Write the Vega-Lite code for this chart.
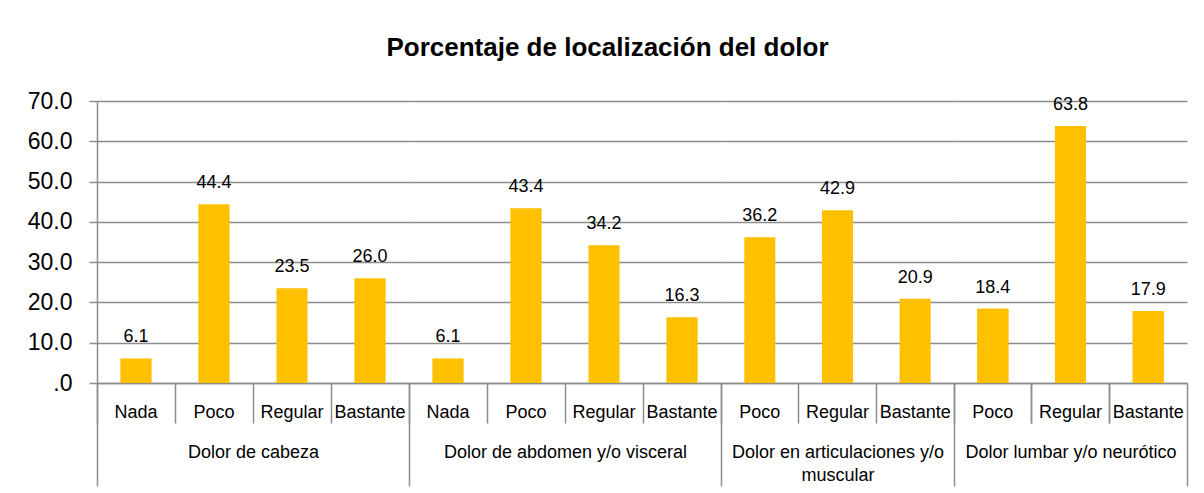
{
  "$schema": "https://vega.github.io/schema/vega-lite/v6.json",
  "background": "white",
  "padding": {"left": 27, "top": 35, "right": 5, "bottom": 0},
  "title": {"text": "Porcentaje de localización del dolor", "fontSize": 26, "fontWeight": "bold", "color": "black", "anchor": "middle", "offset": 29},
  "datasets": {
    "d": [
      {"group": "Dolor de cabeza", "sub": "Nada", "value": 6.1},
      {"group": "Dolor de cabeza", "sub": "Poco", "value": 44.4},
      {"group": "Dolor de cabeza", "sub": "Regular", "value": 23.5},
      {"group": "Dolor de cabeza", "sub": "Bastante", "value": 26.0},
      {"group": "Dolor de abdomen y/o visceral", "sub": "Nada", "value": 6.1},
      {"group": "Dolor de abdomen y/o visceral", "sub": "Poco", "value": 43.4},
      {"group": "Dolor de abdomen y/o visceral", "sub": "Regular", "value": 34.2},
      {"group": "Dolor de abdomen y/o visceral", "sub": "Bastante", "value": 16.3},
      {"group": "Dolor en articulaciones y/o muscular", "sub": "Poco", "value": 36.2},
      {"group": "Dolor en articulaciones y/o muscular", "sub": "Regular", "value": 42.9},
      {"group": "Dolor en articulaciones y/o muscular", "sub": "Bastante", "value": 20.9},
      {"group": "Dolor lumbar y/o neurótico", "sub": "Poco", "value": 18.4},
      {"group": "Dolor lumbar y/o neurótico", "sub": "Regular", "value": 63.8},
      {"group": "Dolor lumbar y/o neurótico", "sub": "Bastante", "value": 17.9}
    ]
  },
  "spacing": 0,
  "bounds": "flush",
  "hconcat": [
    {
      "width": 312, "height": 282,
      "data": {"name": "d"},
      "transform": [{"filter": "datum.group == 'Dolor de cabeza'"}],
      "resolve": {"axis": {"x": "independent"}},
      "encoding": {
        "y": {"field": "value", "type": "quantitative", "scale": {"domain": [0, 70], "nice": false},
              "axis": {"values": [0, 10, 20, 30, 40, 50, 60, 70], "labelExpr": "datum.value == 0 ? '.0' : format(datum.value, '.1f')",
                       "labelFontSize": 23, "labelColor": "black", "labelPadding": 17, "tickSize": 8, "title": null, "domain": true}}
      },
      "layer": [
        {"mark": {"type": "bar", "color": "#FFC000", "width": {"band": 0.4}},
         "encoding": {"x": {"field": "sub", "type": "nominal", "sort": ["Nada", "Poco", "Regular", "Bastante"],
              "scale": {"paddingInner": 0, "paddingOuter": 0},
              "axis": {"orient": "bottom", "bandPosition": 0, "tickSize": 40, "labelPadding": -6, "title": "Dolor de cabeza"}}}},
        {"mark": {"type": "text", "baseline": "alphabetic", "dy": -16, "fontSize": 18, "color": "black"},
         "encoding": {
           "x": {"field": "sub", "type": "nominal", "sort": ["Nada", "Poco", "Regular", "Bastante"],
                 "axis": {"orient": "bottom", "bandPosition": 0, "labels": false, "domain": false, "title": null,
                          "tickSize": {"condition": {"test": "datum.index == 0", "value": 103}, "value": 0}}},
           "text": {"field": "value", "type": "quantitative", "format": ".1f"}}}
      ]
    },
    {
      "width": 312, "height": 282,
      "data": {"name": "d"},
      "transform": [{"filter": "datum.group == 'Dolor de abdomen y/o visceral'"}],
      "resolve": {"axis": {"x": "independent"}},
      "encoding": {
        "y": {"field": "value", "type": "quantitative", "scale": {"domain": [0, 70], "nice": false},
              "axis": {"values": [0, 10, 20, 30, 40, 50, 60, 70], "labels": false, "ticks": false, "domain": false, "title": null}}
      },
      "layer": [
        {"mark": {"type": "bar", "color": "#FFC000", "width": {"band": 0.4}},
         "encoding": {"x": {"field": "sub", "type": "nominal", "sort": ["Nada", "Poco", "Regular", "Bastante"],
              "scale": {"paddingInner": 0, "paddingOuter": 0},
              "axis": {"orient": "bottom", "bandPosition": 0, "tickSize": 40, "labelPadding": -6, "title": "Dolor de abdomen y/o visceral"}}}},
        {"mark": {"type": "text", "baseline": "alphabetic", "dy": -16, "fontSize": 18, "color": "black"},
         "encoding": {
           "x": {"field": "sub", "type": "nominal", "sort": ["Nada", "Poco", "Regular", "Bastante"],
                 "axis": {"orient": "bottom", "bandPosition": 0, "labels": false, "domain": false, "title": null,
                          "tickSize": {"condition": {"test": "datum.index == 0", "value": 103}, "value": 0}}},
           "text": {"field": "value", "type": "quantitative", "format": ".1f"}}}
      ]
    },
    {
      "width": 233, "height": 282,
      "data": {"name": "d"},
      "transform": [{"filter": "datum.group == 'Dolor en articulaciones y/o muscular'"}],
      "resolve": {"axis": {"x": "independent"}},
      "encoding": {
        "y": {"field": "value", "type": "quantitative", "scale": {"domain": [0, 70], "nice": false},
              "axis": {"values": [0, 10, 20, 30, 40, 50, 60, 70], "labels": false, "ticks": false, "domain": false, "title": null}}
      },
      "layer": [
        {"mark": {"type": "bar", "color": "#FFC000", "width": {"band": 0.4}},
         "encoding": {"x": {"field": "sub", "type": "nominal", "sort": ["Poco", "Regular", "Bastante"],
              "scale": {"paddingInner": 0, "paddingOuter": 0},
              "axis": {"orient": "bottom", "bandPosition": 0, "tickSize": 40, "labelPadding": -6, "title": ["Dolor en articulaciones y/o", "muscular"]}}}},
        {"mark": {"type": "text", "baseline": "alphabetic", "dy": -16, "fontSize": 18, "color": "black"},
         "encoding": {
           "x": {"field": "sub", "type": "nominal", "sort": ["Poco", "Regular", "Bastante"],
                 "axis": {"orient": "bottom", "bandPosition": 0, "labels": false, "domain": false, "title": null,
                          "tickSize": {"condition": {"test": "datum.index == 0", "value": 103}, "value": 0}}},
           "text": {"field": "value", "type": "quantitative", "format": ".1f"}}}
      ]
    },
    {
      "width": 233, "height": 282,
      "data": {"name": "d"},
      "transform": [{"filter": "datum.group == 'Dolor lumbar y/o neurótico'"}],
      "resolve": {"axis": {"x": "independent"}},
      "encoding": {
        "y": {"field": "value", "type": "quantitative", "scale": {"domain": [0, 70], "nice": false},
              "axis": {"values": [0, 10, 20, 30, 40, 50, 60, 70], "labels": false, "ticks": false, "domain": false, "title": null}}
      },
      "layer": [
        {"mark": {"type": "bar", "color": "#FFC000", "width": {"band": 0.4}},
         "encoding": {"x": {"field": "sub", "type": "nominal", "sort": ["Poco", "Regular", "Bastante"],
              "scale": {"paddingInner": 0, "paddingOuter": 0},
              "axis": {"orient": "bottom", "bandPosition": 0, "tickSize": 40, "labelPadding": -6, "title": "Dolor lumbar y/o neurótico"}}}},
        {"mark": {"type": "text", "baseline": "alphabetic", "dy": -16, "fontSize": 18, "color": "black"},
         "encoding": {
           "x": {"field": "sub", "type": "nominal", "sort": ["Poco", "Regular", "Bastante"],
                 "axis": {"orient": "bottom", "bandPosition": 0, "labels": false, "domain": false, "title": null,
                          "tickSize": {"condition": {"test": "datum.index == 0", "value": 103}, "value": 0}}},
           "text": {"field": "value", "type": "quantitative", "format": ".1f"}}},
        {"mark": {"type": "bar", "color": "#FFC000", "width": {"band": 0.4}},
         "encoding": {"x": {"field": "sub", "type": "nominal", "sort": ["Poco", "Regular", "Bastante"],
              "axis": {"orient": "bottom", "bandPosition": 1, "labels": false, "domain": false, "title": null,
                       "tickSize": {"condition": {"test": "datum.index == 1", "value": 103}, "value": 40}}}}}
      ]
    }
  ],
  "config": {
    "font": "Liberation Sans",
    "view": {"stroke": null},
    "axis": {
      "gridColor": "#8c8c8c", "gridWidth": 1.5, "gridOpacity": 1,
      "domainColor": "#8c8c8c", "domainWidth": 1.5,
      "tickColor": "#8c8c8c", "tickWidth": 1.5,
      "labelFont": "Liberation Sans", "labelColor": "black"
    },
    "axisX": {
      "grid": false, "labelAngle": 0, "labelFontSize": 18, "labelBaseline": "alphabetic",
      "titleFontSize": 18, "titleFontWeight": "normal", "titleColor": "black", "titleFont": "Liberation Sans",
      "titleY": 74, "titleBaseline": "alphabetic", "titleLineHeight": 23
    }
  }
}
